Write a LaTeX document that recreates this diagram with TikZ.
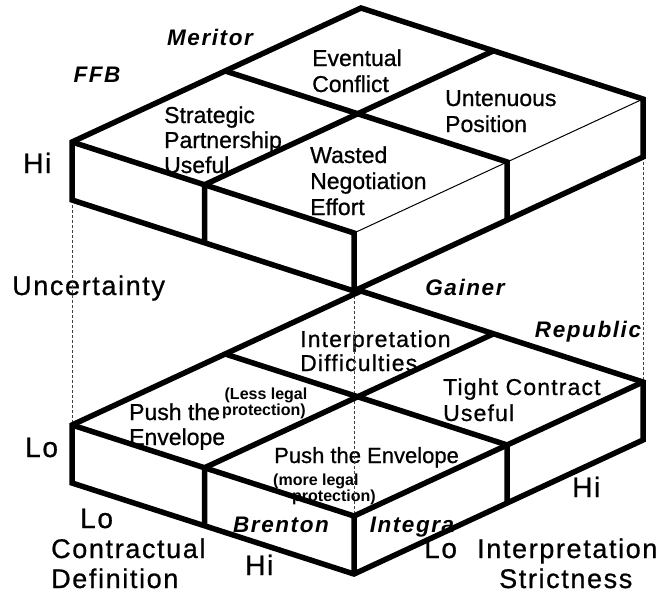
\documentclass[tikz,border=0pt]{standalone}
\usepackage{fontspec}
\setmainfont{Liberation Sans}
\newfontfamily\regfont[FakeBold=0.8]{Liberation Sans}
\newfontfamily\spfont[LetterSpace=6,FakeBold=0.8]{Liberation Sans}
\newfontfamily\cofont[LetterSpace=7]{Liberation Sans}
\newfontfamily\lowfont[LetterSpace=5,FakeBold=0.8]{Liberation Sans}
\usetikzlibrary{calc}
\tikzset{
  cell/.style={inner sep=0pt, anchor=base west, font=\regfont\fontsize{23}{25}\selectfont},
  lowcell/.style={inner sep=0pt, anchor=base west, font=\lowfont\fontsize{23}{25}\selectfont},
  smalltxt/.style={inner sep=0pt, anchor=base west, font=\bfseries\fontsize{16}{17}\selectfont},
  axis/.style={inner sep=0pt, anchor=base west, font=\spfont\fontsize{27}{30}\selectfont},
  hilo/.style={inner sep=0pt, anchor=base west, font=\spfont\fontsize{28}{30}\selectfont},
  co/.style={inner sep=0pt, anchor=base, font=\cofont\bfseries\itshape\fontsize{22.5}{24}\selectfont},
  heavy/.style={line width=5.5pt, line join=miter},
  thinl/.style={line width=1pt},
  guide/.style={line width=1pt, dash pattern=on 3pt off 2pt, black!75}
}
\begin{document}
\begin{tikzpicture}[x=1pt,y=-1pt]
\useasboundingbox (0,0) rectangle (662,598);
% geometry
\foreach \s/\dy in {u/0,d/283}{
  \coordinate (\s L) at (72,142+\dy);
  \coordinate (\s T) at (361,8+\dy);
  \coordinate (\s R) at (643,99+\dy);
  \coordinate (\s F) at (354,233+\dy);
  \coordinate (\s A) at ($(\s L)!0.53!(\s T)$);
  \coordinate (\s B) at ($(\s F)!0.53!(\s R)$);
  \coordinate (\s C) at ($(\s L)!0.47!(\s F)$);
  \coordinate (\s D) at ($(\s T)!0.47!(\s R)$);
  \foreach \p in {L,R,F,B,C} \coordinate (\s\p b) at ($(\s\p)+(0,58)$);
}
% company names
\node[co] (meritor) at (210,45) {Meritor};
\node[co] (ffb) at (97,82) {FFB};
\node[co] (gainer) at (465,295) {Gainer};
\node[co] (republic) at (588,337) {Republic};
\node[co] (brenton) at (281,532) {Brenton};
\node[co] (integra) at (412,532) {Integra};
% upper cells
\node[cell] (ev1) at (312,66) {Eventual};
\node[cell] (ev2) at (312,92) {Conflict};
\node[cell] (un1) at (445,106) {Untenuous};
\node[cell] (un2) at (445,132) {Position};
\node[cell] (st1) at (164,123) {Strategic};
\node[cell] (st2) at (164,148) {Partnership};
\node[cell] (st3) at (164,173) {Useful};
\node[cell] (wa1) at (310,163) {Wasted};
\node[cell] (wa2) at (310,189) {Negotiation};
\node[cell] (wa3) at (310,215) {Effort};
% lower cells
\node[lowcell] (in1) at (300,347) {Interpretation};
\node[lowcell] (in2) at (300,371) {Difficulties};
\node[lowcell] (ti1) at (443,395) {Tight Contract};
\node[lowcell] (ti2) at (443,421) {Useful};
\node[cell] (pl1) at (129,420) {Push the};
\node[cell] (pl2) at (129,445) {Envelope};
\node[smalltxt, anchor=base] (ll1) at (266,399) {(Less legal};
\node[smalltxt, anchor=base] (ll2) at (264,415) {protection)};
\node[cell, font=\regfont\fontsize{22}{24}\selectfont] (pr1) at (274,463) {Push the Envelope};
\node[smalltxt] (ml1) at (273,485) {(more legal};
\node[smalltxt] (ml2) at (292,501) {protection)};
% axis labels
\node[hilo] (hiu) at (23,173) {Hi};
\node[axis] (unc) at (12,295) {Uncertainty};
\node[hilo] (lol) at (25,457) {Lo};
\node[hilo] (lo2) at (80,528) {Lo};
\node[axis] (cd1) at (51,558) {Contractual};
\node[axis] (cd2) at (51,588) {Definition};
\node[hilo] (hib) at (245,575) {Hi};
\node[hilo] (lor) at (424,558) {Lo};
\node[axis] (is1) at (477,558) {Interpretation};
\node[axis] (is2) at (499,588) {Strictness};
\node[hilo] (hir) at (572,497) {Hi};
% guide lines
\draw[guide] (uLb) -- (dL);
\draw[guide] (uRb) -- (dR);
\draw[guide] (uFb) -- (dF);
% upper slab
\draw[heavy] (uL) -- (uT) -- (uR) -- (uRb) -- (uFb) -- (uLb) -- cycle;
\draw[heavy] (uL) -- (uF) -- (uFb);
\draw[heavy] (uA) -- (uB) -- (uBb);
\draw[heavy] (uD) -- (uC) -- (uCb);
\draw[thinl] (uF) -- (uR);
% lower slab
\draw[heavy] (dL) -- (dT) -- (dR) -- (dRb) -- (dFb) -- (dLb) -- cycle;
\draw[heavy] (dL) -- (dF) -- (dFb);
\draw[heavy] (dF) -- (dR);
\draw[heavy] (dA) -- (dB) -- (dBb);
\draw[heavy] (dD) -- (dC) -- (dCb);
\end{tikzpicture}
\end{document}
